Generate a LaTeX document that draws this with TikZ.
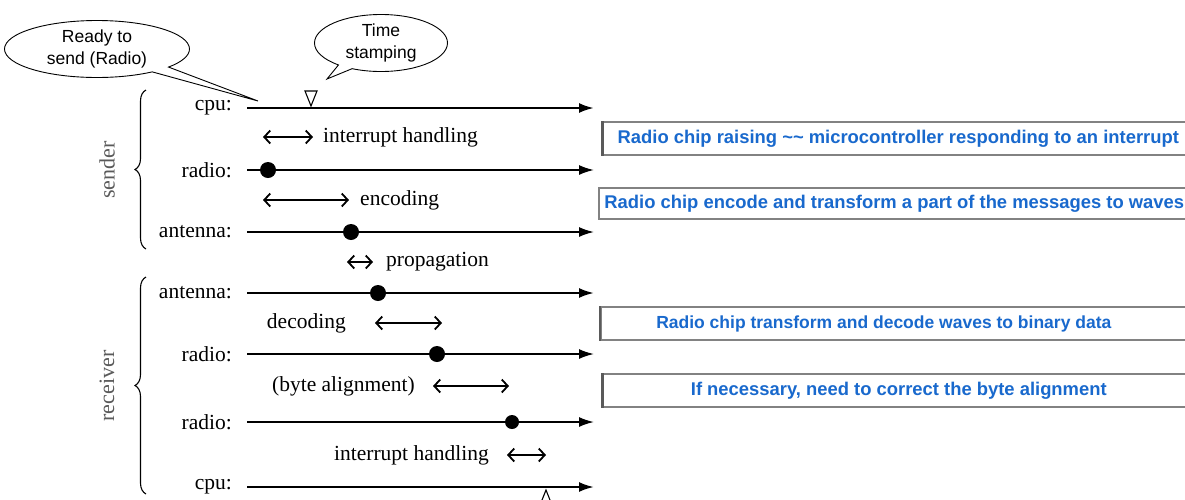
\documentclass[tikz,border=0pt]{standalone}
\usepackage{fontspec}
\setmainfont{Liberation Serif}
\newfontfamily\arialfont{Liberation Sans}
\usetikzlibrary{arrows.meta,shapes.callouts,decorations.pathreplacing}
\definecolor{boxblue}{RGB}{25,105,205}
\definecolor{boxgray}{RGB}{130,130,130}
\definecolor{sidegray}{RGB}{90,90,90}
\begin{document}
\begin{tikzpicture}[x=1pt,y=-1pt,
  lbl/.style={anchor=east,inner sep=0pt,font=\fontsize{21.5}{23}\selectfont},
  txt/.style={inner sep=0pt,font=\fontsize{21.5}{23}\selectfont},
  tline/.style={line width=1.8pt,-{Latex[length=15pt,width=10pt]}},
  span/.style={line width=1.8pt,{Straight Barb[length=6pt,width=13pt]}-{Straight Barb[length=6pt,width=13pt]}},
  evt/.style={circle,fill=black,inner sep=0pt,minimum size=16pt},
  bubble/.style={ellipse callout,draw,line width=0.9pt,align=center,inner sep=1pt,
    font=\arialfont\fontsize{17.5}{22}\selectfont,callout pointer arc=14},
  infobox/.style={draw=boxgray,line width=1.6pt,minimum width=592pt,minimum height=33pt,inner sep=0pt,
    anchor=west,text=boxblue,font=\arialfont\bfseries\fontsize{18.4}{20}\selectfont},
  side/.style={rotate=90,text=sidegray,inner sep=0pt,font=\fontsize{22}{24}\selectfont},
  brc/.style={decorate,decoration={brace,amplitude=11pt},line width=1.1pt}
]
\useasboundingbox (0,0) rectangle (1185,499);
\fill[white] (0,0) rectangle (1185,499);

% row labels
\node[lbl] (lcpu1) at (232,108) {cpu:};
\node[lbl] (lrad1) at (232,170) {radio:};
\node[lbl] (lant1) at (232,232) {antenna:};
\node[lbl] (lant2) at (232,293) {antenna:};
\node[lbl] (lrad2) at (232,354) {radio:};
\node[lbl] (lrad3) at (232,422) {radio:};
\node[lbl] (lcpu2) at (232,487) {cpu:};

% timeline endpoints
\coordinate (s1) at (247,108); \coordinate (e1) at (594,108);
\coordinate (s2) at (247,170); \coordinate (e2) at (594,170);
\coordinate (s3) at (247,232); \coordinate (e3) at (594,232);
\coordinate (s4) at (247,293); \coordinate (e4) at (594,293);
\coordinate (s5) at (247,354); \coordinate (e5) at (594,354);
\coordinate (s6) at (247,422); \coordinate (e6) at (594,422);
\coordinate (s7) at (247,487); \coordinate (e7) at (594,487);
\draw[tline,line width=2.4pt] (s1) -- (e1);
\draw[tline] (s2) -- (e2);
\draw[tline] (s3) -- (e3);
\draw[tline,line width=2.2pt] (s4) -- (e4);
\draw[tline] (s5) -- (e5);
\draw[tline] (s6) -- (e6);
\draw[tline,line width=2.2pt] (s7) -- (e7);

% events
\node[evt] (d1) at (268,170) {};
\node[evt] (d2) at (351,232) {};
\node[evt] (d3) at (378,293) {};
\node[evt] (d4) at (437,354) {};
\node[evt,minimum size=14pt] (d5) at (512,422) {};

% timestamp markers
\draw[line width=1.1pt,fill=white] (311,106) -- (305,91) -- (317,91) -- cycle;
\draw[line width=1.1pt,fill=white] (546,490) -- (540,505) -- (552,505) -- cycle;

% spans
\coordinate (a1l) at (263,137); \coordinate (a1r) at (313,137);
\draw[span] (a1l) -- (a1r);
\node[txt,anchor=west] (t1) at (323,137) {interrupt handling};
\coordinate (a2l) at (263,200); \coordinate (a2r) at (349,200);
\draw[span] (a2l) -- (a2r);
\node[txt,anchor=west] (t2) at (360,200) {encoding};
\coordinate (a3l) at (347,262); \coordinate (a3r) at (373,262);
\draw[span] (a3l) -- (a3r);
\node[txt,anchor=west] (t3) at (386,262) {propagation};
\node[txt,anchor=east] (t4) at (346,323) {decoding};
\coordinate (a4l) at (375,323); \coordinate (a4r) at (442,323);
\draw[span] (a4l) -- (a4r);
\node[txt,anchor=east] (t5) at (415,386) {(byte alignment)};
\coordinate (a5l) at (433,386); \coordinate (a5r) at (509,386);
\draw[span] (a5l) -- (a5r);
\node[txt,anchor=east] (t6) at (489,455) {interrupt handling};
\coordinate (a6l) at (507,455); \coordinate (a6r) at (546,455);
\draw[span] (a6l) -- (a6r);

% braces
\coordinate (b1t) at (146,90); \coordinate (b1b) at (146,249);
\draw[brc] (b1b) -- (b1t);
\node[side] (sender) at (107,170) {sender};
\coordinate (b2t) at (146,277); \coordinate (b2b) at (146,494);
\draw[brc] (b2b) -- (b2t);
\node[side] (receiver) at (107,386) {receiver};

% callouts
\coordinate (p1) at (258,101);
\node[bubble,minimum width=185pt,minimum height=54pt,callout absolute pointer={(p1)}] (ready) at (97,49) {Ready to\\send (Radio)};
\coordinate (p2) at (327,79);
\node[bubble,minimum width=133pt,minimum height=57pt,callout absolute pointer={(p2)}] (time) at (381,43) {Time\\stamping};

% info boxes
\node[infobox,minimum width=591pt] (box1) at (602,138.5) {Radio chip raising \textasciitilde\textasciitilde\ microcontroller responding to an interrupt};
\draw[line width=3pt,draw=sidegray] (box1.north west) -- (box1.south west);
\node[infobox,minimum width=591pt,minimum height=31pt] (box2) at (598,203.5) {Radio chip encode and transform a part of the messages to waves};
\node[infobox,minimum width=591pt,font=\arialfont\bfseries\fontsize{17.5}{20}\selectfont] (box3) at (600,323.5) {Radio chip transform and decode waves to binary data\hspace*{25pt}};
\draw[line width=2.5pt,draw=sidegray] (box3.north west) -- (box3.south west);
\node[infobox] (box4) at (602,390.5) {If necessary, need to correct the byte alignment};
\draw[line width=3pt,draw=sidegray] (box4.north west) -- (box4.south west);
\end{tikzpicture}
\end{document}
